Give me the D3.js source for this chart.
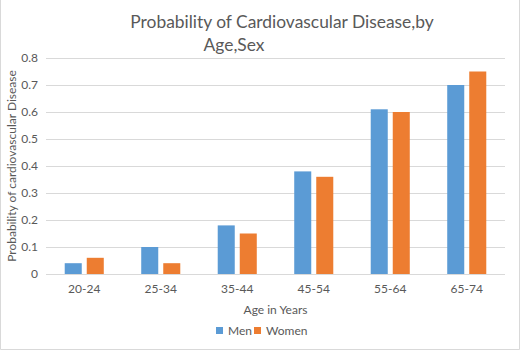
<!DOCTYPE html>
<html>
<head>
<meta charset="utf-8">
<script src="https://cdn.jsdelivr.net/npm/d3@7"></script>
<style>
	body { margin: 0; background: #fff; }
	text { font-family: Lato, "Open Sans", sans-serif; fill: #595959; }
</style>
</head>
<body>
<div id="chart-area"></div>
<script>
// Data
let ageGroups = ["20-24", "25-34", "35-44", "45-54", "55-64", "65-74"];
let seriesNames = ["Men", "Women"];
let menValues = [0.04, 0.10, 0.18, 0.38, 0.61, 0.70];
let womenValues = [0.06, 0.04, 0.15, 0.36, 0.60, 0.75];
let yTicks = [0, 0.1, 0.2, 0.3, 0.4, 0.5, 0.6, 0.7, 0.8];
let colors = ["#5b9bd5", "#ed7d31"];

let data = ageGroups.map((g, i) => ({group: g, values: [menValues[i], womenValues[i]]}));

// SVG drawing space
let totalWidth = 522, totalHeight = 351;
let margin = {top: 58, right: 17, bottom: 77, left: 46};
let width = 505 - margin.left;
let height = 274 - margin.top;

let root = d3.select("#chart-area")
	.append("svg")
	.attr("width", totalWidth)
	.attr("height", totalHeight);

// Chart border (left, right, bottom)
root.append("path")
	.attr("d", "M0.5,0 V349.5 H519.5 V0")
	.attr("fill", "none")
	.attr("stroke", "#d9d9d9");

let svg = root.append("g")
	.attr("transform", "translate(" + margin.left + "," + margin.top + ")");

// Scales
let x0 = d3.scaleBand()
	.domain(ageGroups)
	.range([0, width]);
let x1 = d3.scaleBand()
	.domain(seriesNames)
	.range([0, x0.bandwidth()])
	.paddingInner(0.227)
	.paddingOuter(0.85);
let y = d3.scaleLinear()
	.domain([0, 0.8])
	.range([height, 0]);

// Gridlines
svg.selectAll(".grid")
	.data(yTicks)
	.enter()
	.append("line")
	.attr("class", "grid")
	.attr("x1", 0)
	.attr("x2", width)
	.attr("y1", d => Math.round(y(d)) + 0.5)
	.attr("y2", d => Math.round(y(d)) + 0.5)
	.attr("stroke", "#d9d9d9")
	.attr("stroke-width", 1);

// Y axis labels
let yAxis = d3.axisLeft(y)
	.tickValues(yTicks)
	.tickFormat(d => d === 0 ? "0" : d3.format(".1f")(d))
	.tickSize(0)
	.tickPadding(8);
let yAxisGroup = svg.append("g").call(yAxis);
yAxisGroup.select(".domain").remove();
yAxisGroup.selectAll("text")
	.style("font-size", "12px")
	.style("font-family", "Lato, sans-serif")
	.attr("fill", "#595959");

// X axis labels
let xAxis = d3.axisBottom(x0)
	.tickSize(0)
	.tickPadding(10);
let xAxisGroup = svg.append("g")
	.attr("transform", "translate(0," + height + ")")
	.call(xAxis);
xAxisGroup.select(".domain").remove();
xAxisGroup.selectAll("text")
	.style("font-size", "12px")
	.style("font-family", "Lato, sans-serif")
	.attr("fill", "#595959");

// Bars
let groups = svg.selectAll(".group")
	.data(data)
	.enter()
	.append("g")
	.attr("class", "group")
	.attr("transform", d => "translate(" + x0(d.group) + ",0)");
groups.selectAll("rect")
	.data(d => d.values.map((v, i) => ({name: seriesNames[i], value: v, idx: i})))
	.enter()
	.append("rect")
	.attr("x", d => x1(d.name))
	.attr("y", d => y(d.value))
	.attr("width", x1.bandwidth())
	.attr("height", d => height - y(d.value))
	.attr("fill", d => colors[d.idx]);

// Title
root.append("text")
	.attr("x", 282)
	.attr("y", 28)
	.attr("text-anchor", "middle")
	.style("font-size", "17.4px")
	.text("Probability of Cardiovascular Disease,by");
root.append("text")
	.attr("x", 234)
	.attr("y", 51)
	.attr("text-anchor", "middle")
	.style("font-size", "17.4px")
	.text("Age,Sex");

// Axis titles
root.append("text")
	.attr("transform", "translate(16," + 166 + ") rotate(-90)")
	.attr("text-anchor", "middle")
	.style("font-size", "12px")
	.text("Probability of cardiovascular Disease");
root.append("text")
	.attr("x", margin.left + width / 2)
	.attr("y", 314)
	.attr("text-anchor", "middle")
	.style("font-size", "12px")
	.text("Age in Years");

// Legend
let legendX = [216, 254];
let legend = root.selectAll(".legend")
	.data(seriesNames)
	.enter()
	.append("g")
	.attr("class", "legend")
	.attr("transform", (d, i) => "translate(" + legendX[i] + ",327)");
legend.append("rect")
	.attr("width", 7)
	.attr("height", 7)
	.attr("fill", (d, i) => colors[i]);
legend.append("text")
	.attr("x", 12)
	.attr("y", 8)
	.style("font-size", "12px")
	.text(d => d);
</script>
</body>
</html>
